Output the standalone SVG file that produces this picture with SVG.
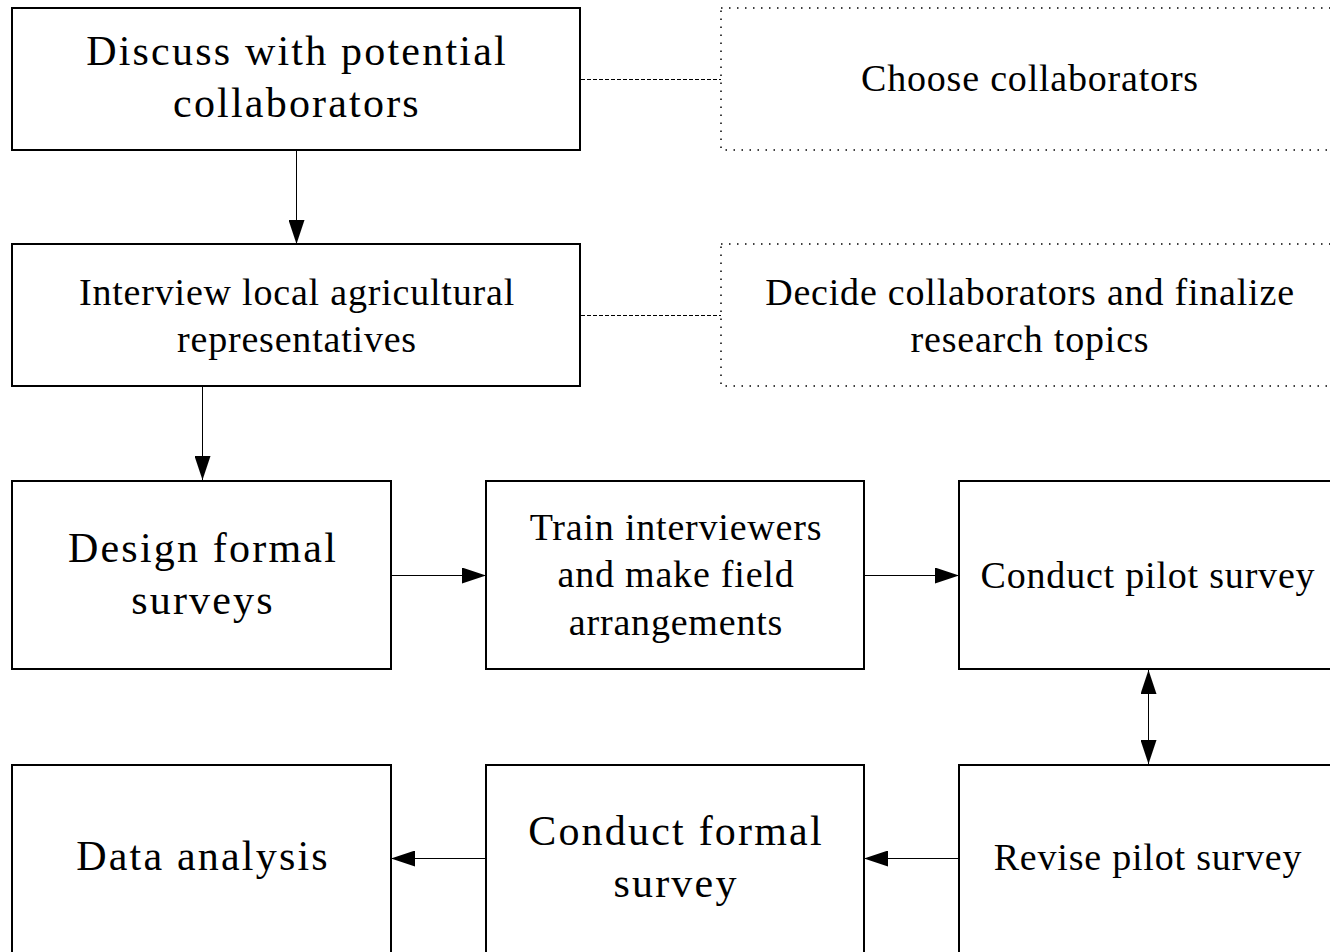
<svg xmlns="http://www.w3.org/2000/svg" width="1330" height="952" viewBox="0 0 1330 952">
<style>
.box{fill:#fff;stroke:#000;stroke-width:2}
.dot{fill:none;stroke:#000;stroke-width:1.5;stroke-dasharray:1.5 6.5}
.t{font-family:"Liberation Serif","Times New Roman",serif;fill:#000;text-anchor:middle}
.big{font-size:42px;letter-spacing:2.2px}
.med{font-size:38px;letter-spacing:0.8px}
.c{fill:none;stroke:#000;stroke-width:1}
.d{fill:none;stroke:#000;stroke-width:1;stroke-dasharray:4 2}
</style>
<defs>
<marker id="ah" viewBox="0 0 24 16" refX="24" refY="8" markerWidth="24" markerHeight="16" markerUnits="userSpaceOnUse" orient="auto-start-reverse">
<path d="M0,0 L24,8 L0,16 Z" fill="#000"/>
</marker>
</defs>
<g id="connectors">
<line class="c" x1="296.5" y1="150" x2="296.5" y2="244" marker-end="url(#ah)"/>
<line class="c" x1="202.5" y1="386" x2="202.5" y2="480" marker-end="url(#ah)"/>
<line class="c" x1="391" y1="575.5" x2="486" y2="575.5" marker-end="url(#ah)"/>
<line class="c" x1="864" y1="575.5" x2="959" y2="575.5" marker-end="url(#ah)"/>
<line class="c" x1="1148.5" y1="670" x2="1148.5" y2="764" marker-start="url(#ah)" marker-end="url(#ah)"/>
<line class="c" x1="486" y1="858.5" x2="391" y2="858.5" marker-end="url(#ah)"/>
<line class="c" x1="959" y1="858.5" x2="864" y2="858.5" marker-end="url(#ah)"/>
<line class="d" x1="581" y1="79.5" x2="721" y2="79.5"/>
<line class="d" x1="581" y1="315.5" x2="721" y2="315.5"/>
</g>
<g id="n1"><rect class="box" x="12" y="8" width="568" height="142"/>
<text class="t big" x="297" y="65">Discuss with potential</text><text class="t big" x="297" y="117">collaborators</text></g>
<g id="n2"><rect class="box" x="12" y="244" width="568" height="142"/>
<text class="t med" x="297" y="305">Interview local agricultural</text><text class="t med" x="297" y="352">representatives</text></g>
<g id="n3"><rect class="dot" x="721" y="8" width="640" height="142"/>
<text class="t med" x="1030" y="91">Choose collaborators</text></g>
<g id="n4"><rect class="dot" x="721" y="244" width="640" height="142"/>
<text class="t med" x="1030" y="305">Decide collaborators and finalize</text><text class="t med" x="1030" y="352">research topics</text></g>
<g id="n5"><rect class="box" x="12" y="481" width="379" height="188"/>
<text class="t big" x="203" y="562">Design formal</text><text class="t big" x="203" y="614">surveys</text></g>
<g id="n6"><rect class="box" x="486" y="481" width="378" height="188"/>
<text class="t med" x="676" y="540">Train interviewers</text><text class="t med" x="676" y="587">and make field</text><text class="t med" x="676" y="635">arrangements</text></g>
<g id="n7"><rect class="box" x="959" y="481" width="380" height="188"/>
<text class="t med" x="1148" y="588">Conduct pilot survey</text></g>
<g id="n8"><rect class="box" x="12" y="765" width="379" height="200"/>
<text class="t big" x="203" y="870">Data analysis</text></g>
<g id="n9"><rect class="box" x="486" y="765" width="378" height="200"/>
<text class="t big" x="676" y="845">Conduct formal</text><text class="t big" x="676" y="897">survey</text></g>
<g id="n10"><rect class="box" x="959" y="765" width="380" height="200"/>
<text class="t med" x="1148" y="870">Revise pilot survey</text></g>
</svg>
